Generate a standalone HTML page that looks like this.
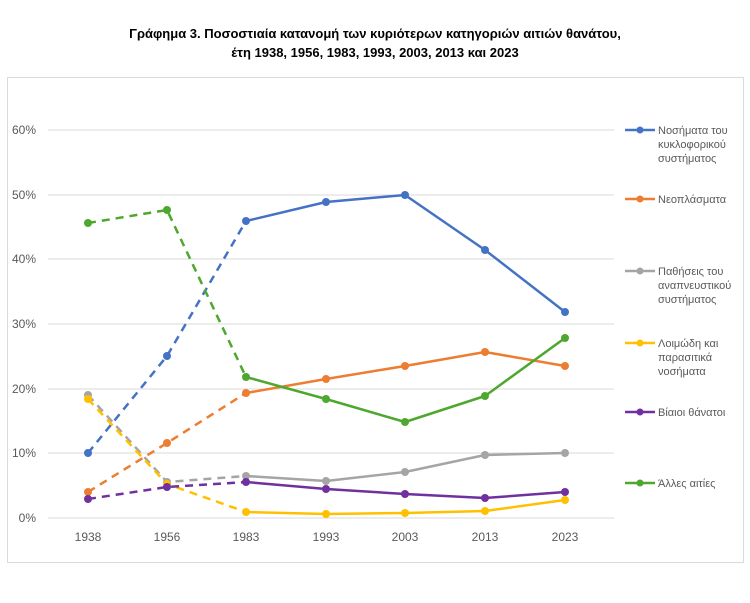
<!DOCTYPE html>
<html><head><meta charset="utf-8"><style>
body{margin:0;background:#fff;}
svg text{font-family:"Liberation Sans","DejaVu Sans",sans-serif;}
</style></head><body>
<svg width="750" height="598" xmlns="http://www.w3.org/2000/svg">
<rect width="750" height="598" fill="#fff"/>
<text x="375" y="38" text-anchor="middle" font-size="13" font-weight="bold" fill="#000">Γράφημα 3. Ποσοστιαία κατανομή των κυριότερων κατηγοριών αιτιών θανάτου,</text>
<text x="375" y="57" text-anchor="middle" font-size="13" font-weight="bold" fill="#000">έτη 1938, 1956, 1983, 1993, 2003, 2013 και 2023</text>
<rect x="7.5" y="77.5" width="736" height="485" fill="none" stroke="#d9d9d9"/>
<g stroke="#d9d9d9" stroke-width="1">
<line x1="48" x2="614" y1="130" y2="130"/><line x1="48" x2="614" y1="195" y2="195"/>
<line x1="48" x2="614" y1="259" y2="259"/><line x1="48" x2="614" y1="324" y2="324"/>
<line x1="48" x2="614" y1="389" y2="389"/><line x1="48" x2="614" y1="453" y2="453"/>
<line x1="48" x2="614" y1="518" y2="518"/></g>
<g font-size="12" fill="#595959" text-anchor="end">
<text x="36" y="134">60%</text><text x="36" y="199">50%</text><text x="36" y="263">40%</text>
<text x="36" y="328">30%</text><text x="36" y="393">20%</text><text x="36" y="457">10%</text><text x="36" y="522">0%</text></g>
<g font-size="12" fill="#595959" text-anchor="middle">
<text x="88" y="541">1938</text><text x="167" y="541">1956</text><text x="246" y="541">1983</text><text x="326" y="541">1993</text><text x="405" y="541">2003</text><text x="485" y="541">2013</text><text x="565" y="541">2023</text></g>
<g fill="none" stroke-width="2.5" stroke-linejoin="round">
<g stroke="#4472c4"><polyline stroke-dasharray="8,6" points="88,453 167,356 246,221"/><polyline points="246,221 326,202 405,195 485,250 565,312"/></g>
<g stroke="#ed7d31"><polyline stroke-dasharray="8,6" points="88,492 167,443 246,393"/><polyline points="246,393 326,379 405,366 485,352 565,366"/></g>
<g stroke="#a5a5a5"><polyline stroke-dasharray="8,6" points="88,395 167,482 246,476"/><polyline points="246,476 326,481 405,472 485,455 565,453"/></g>
<g stroke="#ffc000"><polyline stroke-dasharray="8,6" points="88,399 167,484 246,512"/><polyline points="246,512 326,514 405,513 485,511 565,500"/></g>
<g stroke="#7030a0"><polyline stroke-dasharray="8,6" points="88,499 167,487 246,482"/><polyline points="246,482 326,489 405,494 485,498 565,492"/></g>
<g stroke="#4ea72e"><polyline stroke-dasharray="8,6" points="88,223 167,210 246,377"/><polyline points="246,377 326,399 405,422 485,396 565,338"/></g>
</g>
<g fill="#4472c4"><circle cx="88" cy="453" r="4"/><circle cx="167" cy="356" r="4"/><circle cx="246" cy="221" r="4"/><circle cx="326" cy="202" r="4"/><circle cx="405" cy="195" r="4"/><circle cx="485" cy="250" r="4"/><circle cx="565" cy="312" r="4"/></g>
<g fill="#ed7d31"><circle cx="88" cy="492" r="4"/><circle cx="167" cy="443" r="4"/><circle cx="246" cy="393" r="4"/><circle cx="326" cy="379" r="4"/><circle cx="405" cy="366" r="4"/><circle cx="485" cy="352" r="4"/><circle cx="565" cy="366" r="4"/></g>
<g fill="#a5a5a5"><circle cx="88" cy="395" r="4"/><circle cx="167" cy="482" r="4"/><circle cx="246" cy="476" r="4"/><circle cx="326" cy="481" r="4"/><circle cx="405" cy="472" r="4"/><circle cx="485" cy="455" r="4"/><circle cx="565" cy="453" r="4"/></g>
<g fill="#ffc000"><circle cx="88" cy="399" r="4"/><circle cx="167" cy="484" r="4"/><circle cx="246" cy="512" r="4"/><circle cx="326" cy="514" r="4"/><circle cx="405" cy="513" r="4"/><circle cx="485" cy="511" r="4"/><circle cx="565" cy="500" r="4"/></g>
<g fill="#7030a0"><circle cx="88" cy="499" r="4"/><circle cx="167" cy="487" r="4"/><circle cx="246" cy="482" r="4"/><circle cx="326" cy="489" r="4"/><circle cx="405" cy="494" r="4"/><circle cx="485" cy="498" r="4"/><circle cx="565" cy="492" r="4"/></g>
<g fill="#4ea72e"><circle cx="88" cy="223" r="4"/><circle cx="167" cy="210" r="4"/><circle cx="246" cy="377" r="4"/><circle cx="326" cy="399" r="4"/><circle cx="405" cy="422" r="4"/><circle cx="485" cy="396" r="4"/><circle cx="565" cy="338" r="4"/></g>
<g stroke-width="2.5">
<line x1="625" x2="655" y1="130" y2="130" stroke="#4472c4"/><circle cx="640" cy="130" r="3.5" fill="#4472c4"/>
<line x1="625" x2="655" y1="199" y2="199" stroke="#ed7d31"/><circle cx="640" cy="199" r="3.5" fill="#ed7d31"/>
<line x1="625" x2="655" y1="271" y2="271" stroke="#a5a5a5"/><circle cx="640" cy="271" r="3.5" fill="#a5a5a5"/>
<line x1="625" x2="655" y1="343" y2="343" stroke="#ffc000"/><circle cx="640" cy="343" r="3.5" fill="#ffc000"/>
<line x1="625" x2="655" y1="412" y2="412" stroke="#7030a0"/><circle cx="640" cy="412" r="3.5" fill="#7030a0"/>
<line x1="625" x2="655" y1="483" y2="483" stroke="#4ea72e"/><circle cx="640" cy="483" r="3.5" fill="#4ea72e"/>
</g>
<g font-size="11" fill="#595959">
<text x="658" y="134">Νοσήματα του</text><text x="658" y="148">κυκλοφορικού</text><text x="658" y="162">συστήματος</text>
<text x="658" y="203">Νεοπλάσματα</text>
<text x="658" y="275">Παθήσεις του</text><text x="658" y="289">αναπνευστικού</text><text x="658" y="303">συστήματος</text>
<text x="658" y="347">Λοιμώδη και</text><text x="658" y="361">παρασιτικά</text><text x="658" y="375">νοσήματα</text>
<text x="658" y="416">Βίαιοι θάνατοι</text>
<text x="658" y="487">Άλλες αιτίες</text>
</g>
</svg>
</body></html>
